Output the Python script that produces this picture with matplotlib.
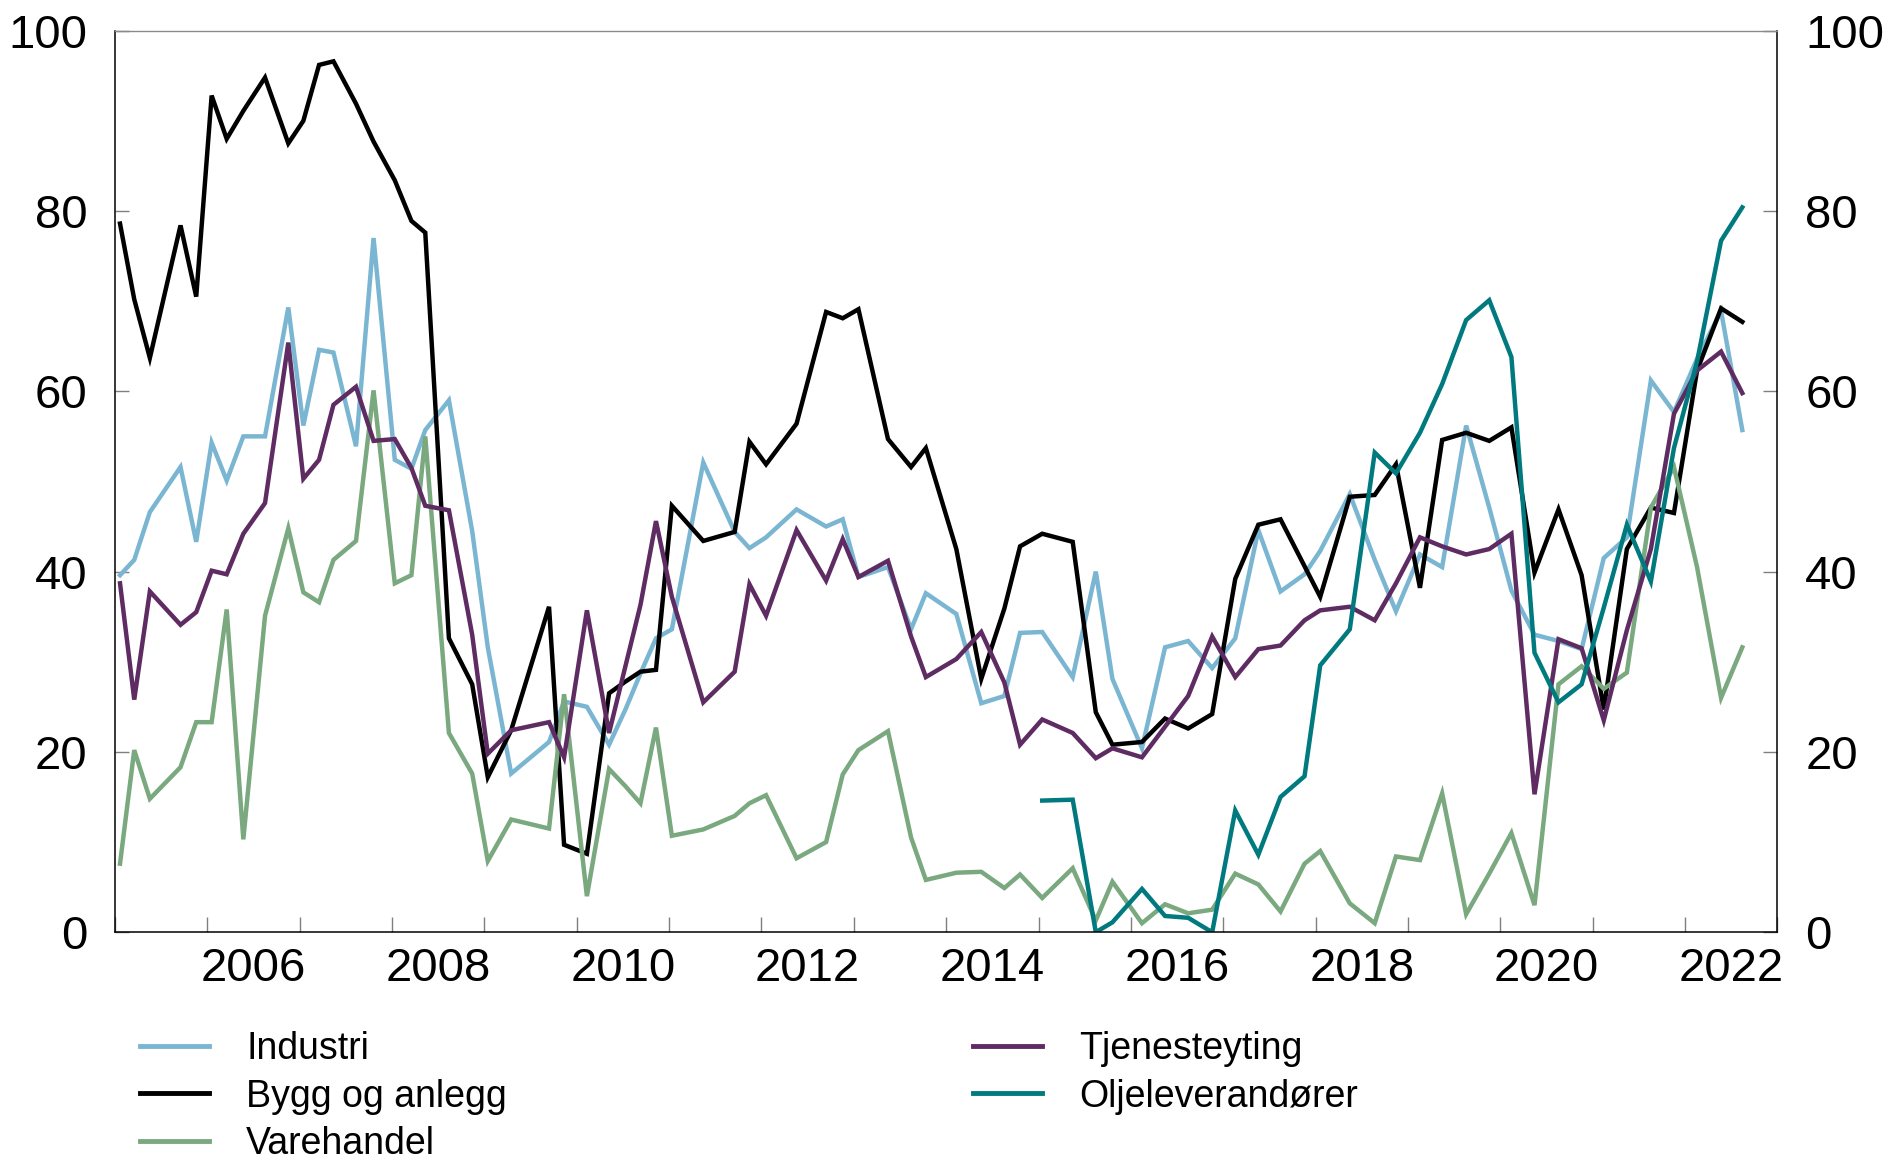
import matplotlib
matplotlib.use('Agg')
import matplotlib.pyplot as plt
import numpy as np
from matplotlib.lines import Line2D

plt.rcParams['font.family'] = ['Liberation Sans', 'DejaVu Sans']

nan = np.nan

# survey dates (decimal years)
dates = [2005.055, 2005.209, 2005.378, 2005.71, 2005.88, 2006.047, 2006.21, 2006.39,
         2006.625, 2006.877, 2007.04, 2007.21, 2007.366, 2007.61, 2007.80, 2008.03,
         2008.21, 2008.36, 2008.616, 2008.868, 2009.037, 2009.29, 2009.70, 2009.863,
         2010.11, 2010.35, 2010.527, 2010.69, 2010.858, 2011.03, 2011.37, 2011.71,
         2011.87, 2012.05, 2012.38, 2012.70, 2012.88, 2013.05, 2013.37, 2013.62,
         2013.78, 2014.11, 2014.38, 2014.63, 2014.80, 2015.04, 2015.37, 2015.62,
         2015.80, 2016.12, 2016.37, 2016.62, 2016.88, 2017.13, 2017.38, 2017.62,
         2017.88, 2018.05, 2018.37, 2018.64, 2018.87, 2019.13, 2019.37, 2019.63,
         2019.88, 2020.12, 2020.37, 2020.63, 2020.88, 2021.12, 2021.37, 2021.63,
         2021.88, 2022.13, 2022.39, 2022.62]

industri = [39.6, 41.3, 46.6, 51.6, 43.3, 54.3, 50.1, 55.0, 55.0, 69.3, 56.2, 64.6,
            64.3, 53.9, 77.0, 52.4, 51.4, 55.7, 59.0, 44.5, 31.6, 17.6, 21.1, 25.6,
            25.0, 20.8, 24.7, 28.7, 32.6, 33.6, 52.1, 44.4, 42.6, 43.8, 46.9, 45.0,
            45.8, 39.4, 40.5, 33.6, 37.6, 35.3, 25.4, 26.2, 33.2, 33.3, 28.3, 40.0,
            28.1, 20.4, 31.6, 32.3, 29.3, 32.6, 44.6, 37.8, 39.7, 42.3, 48.6, 41.3,
            35.6, 41.9, 40.5, 56.2, 47.1, 37.9, 33.0, 32.3, 31.4, 41.5, 43.8, 61.2,
            57.7, 63.6, 68.9, 55.7]

bygg = [78.6, 70.2, 63.7, 78.4, 70.5, 92.8, 88.0, 91.1, 94.8, 87.5, 90.0, 96.2,
        96.6, 91.9, 87.7, 83.4, 78.9, 77.6, 32.6, 27.5, 17.2, 22.4, 36.1, 9.7,
        8.7, 26.5, 27.8, 28.9, 29.1, 47.3, 43.4, 44.4, 54.4, 51.9, 56.4, 68.8,
        68.1, 69.1, 54.7, 51.6, 53.7, 42.5, 28.1, 35.9, 42.8, 44.2, 43.3, 24.4,
        20.8, 21.1, 23.7, 22.6, 24.2, 39.2, 45.2, 45.8, 40.6, 37.2, 48.3, 48.5,
        51.9, 38.2, 54.6, 55.4, 54.5, 56.0, 39.9, 46.9, 39.6, 24.7, 42.5, 47.1,
        46.5, 62.3, 69.2, 67.7]

varehandel = [7.6, 20.2, 14.8, 18.3, 23.3, 23.3, 35.8, 10.3, 35.1, 44.8, 37.7, 36.6,
              41.3, 43.4, 60.1, 38.7, 39.6, 55.0, 22.1, 17.6, 7.9, 12.5, 11.5, 26.4,
              4.0, 18.1, 16.2, 14.3, 22.7, 10.7, 11.4, 12.9, 14.3, 15.2, 8.2, 10.0,
              17.5, 20.2, 22.3, 10.5, 5.8, 6.6, 6.7, 4.9, 6.4, 3.8, 7.1, 1.3,
              5.6, 1.0, 3.1, 2.1, 2.5, 6.5, 5.3, 2.3, 7.6, 9.0, 3.2, 1.0,
              8.4, 8.0, 15.4, 2.0, 6.5, 11.0, 3.0, 27.5, 29.5, 27.0, 28.8, 47.1,
              51.6, 40.5, 26.0, 31.6]

tjenesteyting = [38.7, 25.8, 37.8, 34.1, 35.5, 40.1, 39.7, 44.2, 47.6, 65.4, 50.3, 52.4,
                 58.5, 60.5, 54.5, 54.7, 51.5, 47.3, 46.8, 33.0, 19.8, 22.4, 23.3, 19.4,
                 35.7, 22.1, 29.5, 36.3, 45.6, 37.2, 25.5, 28.9, 38.6, 35.1, 44.6, 39.0,
                 43.6, 39.4, 41.2, 32.8, 28.3, 30.3, 33.3, 27.7, 20.8, 23.6, 22.1, 19.3,
                 20.4, 19.4, 22.8, 26.2, 32.8, 28.3, 31.4, 31.8, 34.6, 35.7, 36.1, 34.6,
                 38.7, 43.8, 42.8, 41.9, 42.5, 44.2, 15.3, 32.5, 31.5, 23.5, 33.5, 42.5,
                 57.5, 62.3, 64.4, 59.8]

oljeleverandorer = [nan] * 45 + [14.6, 14.7, 0.0, 1.1, 4.8, 1.8, 1.6, 0.0, 13.5, 8.6, 15.0,
                                 17.3, 29.6, 33.6, 53.2, 50.9, 55.4, 60.8, 67.9, 70.1, 63.8,
                                 31.0, 25.5, 27.5, 36.0, 45.2, 38.9, 53.7, 63.3, 76.7, 80.4]

series = [
    ("Industri", industri, "#7ab6d2"),
    ("Bygg og anlegg", bygg, "#000000"),
    ("Varehandel", varehandel, "#7aa87f"),
    ("Tjenesteyting", tjenesteyting, "#5e2c62"),
    ("Oljeleverandører", oljeleverandorer, "#007a7e"),
]

fig = plt.figure(figsize=(19.03, 11.66), dpi=100)
ax = fig.add_axes([0.0604, 0.2005, 0.8736, 0.7732])

lw = 3.2
handles = []
for name, vals, col in series:
    ln, = ax.plot(dates, vals, color=col, lw=lw, solid_joinstyle='miter', label=name)
    handles.append(ln)

ax.set_xlim(2005.0, 2023.0)
ax.set_ylim(0, 100)
ax.set_yticks(range(0, 101, 20))
ax.set_xticks(np.arange(2005, 2024))
ax.set_xticklabels([])
lab_years = list(range(2006, 2023, 2))
ax.set_xticks([y + 0.5 for y in lab_years], minor=True)
ax.set_xticklabels([str(y) for y in lab_years], minor=True)

ax.tick_params(axis='x', which='major', direction='in', length=11, width=1.0,
               color='#7f7f7f', bottom=True, top=False)
ax.tick_params(axis='x', which='minor', length=0, pad=11, labelsize=34)
ax.tick_params(axis='y', which='major', direction='in', length=10, width=1.0,
               color='#7f7f7f', left=True, right=True, labelleft=True,
               labelright=True, labelsize=34, pad=20)

for s in ['left', 'bottom', 'right']:
    ax.spines[s].set_color('#000000')
    ax.spines[s].set_linewidth(1.1)
ax.spines['top'].set_color('#8a8a8a')
ax.spines['top'].set_linewidth(1.0)

leg_kw = dict(frameon=False, fontsize=27, handlelength=1.83, handletextpad=1.0,
              borderpad=0, borderaxespad=0, labelspacing=0.3, loc='upper left')
l1 = fig.legend(handles=handles[:3], bbox_to_anchor=(0.0736, 0.1155), **leg_kw)
l2 = fig.legend(handles=handles[3:], bbox_to_anchor=(0.5115, 0.1155), **leg_kw)
for lg in (l1, l2):
    for h in lg.legend_handles:
        h.set_linewidth(3.5)

fig.savefig('out.png', dpi=100)
